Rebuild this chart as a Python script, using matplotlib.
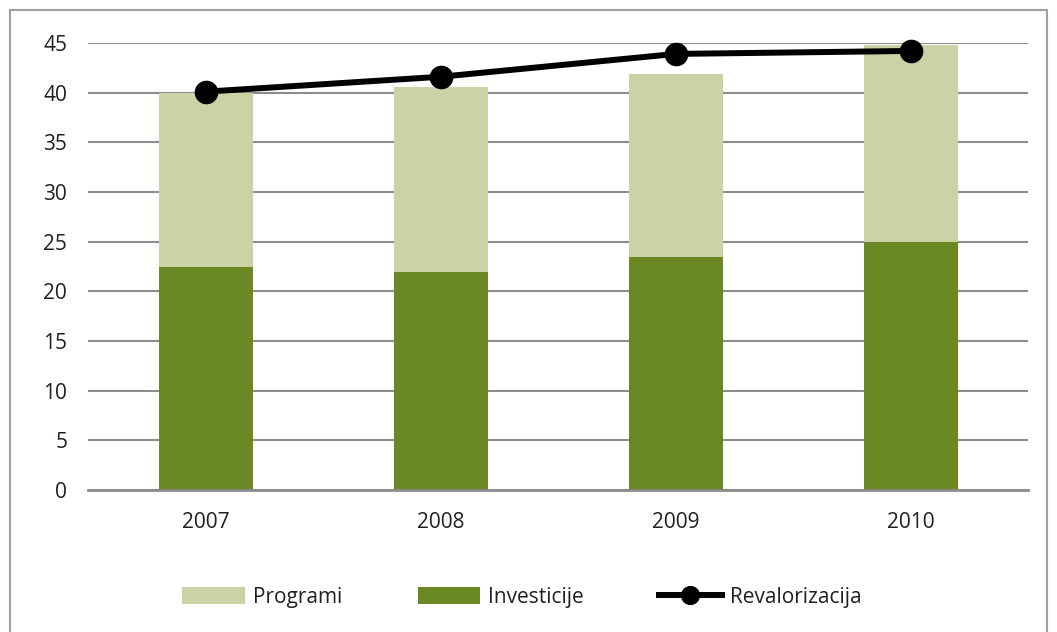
import matplotlib.pyplot as plt
from matplotlib.patches import Rectangle

years = ['2007', '2008', '2009', '2010']
investicije = [22.47, 21.97, 23.5, 24.95]
programi = [17.5, 18.6, 18.4, 19.85]
revalorizacija = [40.1, 41.6, 43.9, 44.2]

plt.rcParams['font.family'] = ['Open Sans', 'DejaVu Sans']
plt.rcParams['text.color'] = '#231f20'

fig = plt.figure(figsize=(10.57, 6.32), dpi=100)
ax = fig.add_axes([88 / 1057, 142 / 632, 940 / 1057, 447 / 632])

x = range(len(years))
ax.bar(x, investicije, width=0.4, color='#6a8823', label='Investicije', zorder=2)
ax.bar(x, programi, width=0.4, bottom=investicije, color='#c9d3a5',
       label='Programi', zorder=2)
ax.plot(x, revalorizacija, color='black', lw=4.3, marker='o', markersize=16,
        label='Revalorizacija', zorder=3, clip_on=False)

ax.set_xlim(-0.5, 3.5)
ax.set_ylim(0, 45)
ax.set_yticks(range(0, 50, 5))
ax.set_xticks(list(x))
ax.set_xticklabels(years)
ax.yaxis.grid(True, color='#8c8c8c', lw=1.5, zorder=0)
ax.set_axisbelow(True)
for s in ['top', 'right', 'left']:
    ax.spines[s].set_visible(False)
ax.spines['bottom'].set_color('#8c8c8c')
ax.spines['bottom'].set_linewidth(2)
ax.tick_params(axis='y', length=0, pad=15, labelsize=15, labelcolor='#231f20')
ax.tick_params(axis='x', length=0, pad=16, labelsize=15, labelcolor='#231f20')

handles, labels = ax.get_legend_handles_labels()
lookup = dict(zip(labels, handles))
order = ['Programi', 'Investicije', 'Revalorizacija']
leg = fig.legend([lookup[k] for k in order], order,
                 loc='center', bbox_to_anchor=(522 / 1057, 1 - 597 / 632), ncol=3,
                 frameon=False, fontsize=15, handlelength=3.0, handleheight=0.85,
                 handletextpad=0.4, columnspacing=3.6, markerscale=0.8)

# outer frame
fig.patches.append(Rectangle((10 / 1057, -0.1), 1037 / 1057, 1.1 - 10 / 632,
                             transform=fig.transFigure, fill=False,
                             edgecolor='#a0a0a0', lw=1.5))

fig.savefig('out.png', dpi=100)
